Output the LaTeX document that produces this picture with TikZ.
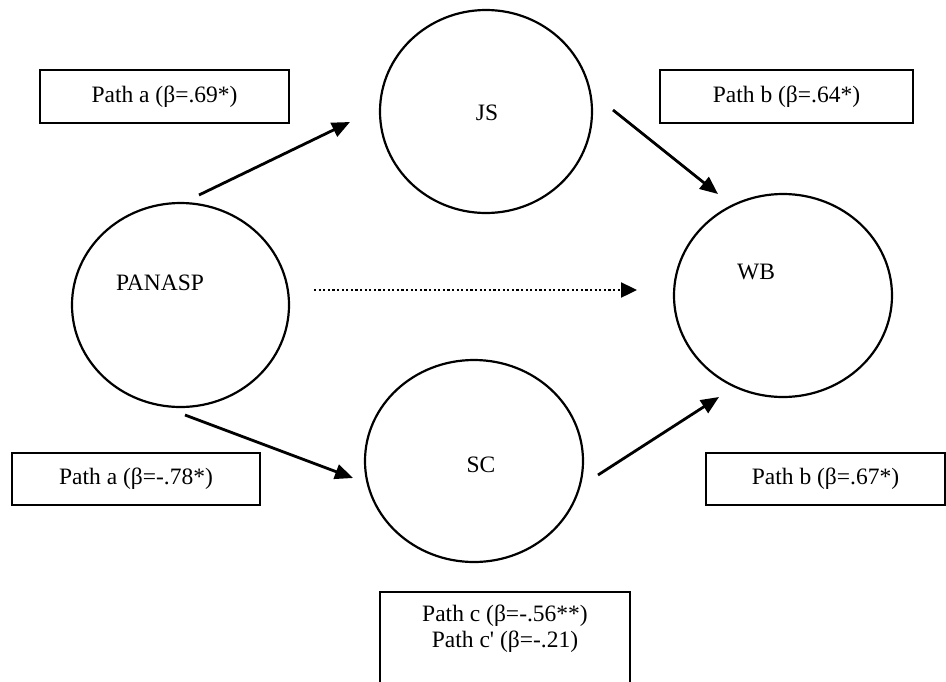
\documentclass[tikz,border=0pt]{standalone}
\usepackage{fontspec}
\newfontfamily\diagfont{Liberation Serif}
\usetikzlibrary{arrows.meta,shapes.geometric}
\begin{document}
\begin{tikzpicture}[x=1pt,y=-1pt,
  construct/.style={draw, ellipse, line width=2.2pt, inner sep=0pt},
  pathbox/.style={draw, line width=2.2pt, inner sep=0pt,
    font=\diagfont\fontsize{23.5}{26}\selectfont},
  txt/.style={inner sep=0pt, font=\diagfont\fontsize{23.5}{26}\selectfont},
  link/.style={line width=2.8pt, -{Triangle[length=18pt,width=15pt]}},
  dotlink/.style={line width=2.4pt, dash pattern=on 2.2pt off 2.4pt,
    -{Triangle[length=16pt,width=15pt]}}]
\useasboundingbox (0,0) rectangle (946,681);
\clip (0,0) rectangle (946,681);

% latent constructs
\node[construct, minimum width=217pt, minimum height=204pt] (panasp) at (180.5,305) {};
\node[construct, minimum width=212pt, minimum height=203pt] (js) at (486,111.5) {};
\node[construct, minimum width=218pt, minimum height=203pt] (wb) at (783,295.5) {};
\node[construct, minimum width=218pt, minimum height=202pt] (sc) at (474,461) {};

\node[txt] (panasptxt) at (160,283) {PANASP};
\node[txt] (jstxt) at (487,113) {JS};
\node[txt] (wbtxt) at (756,272) {WB};
\node[txt] (sctxt) at (481,465) {SC};

% coefficient boxes
\node[pathbox, minimum width=249pt, minimum height=53pt] (pa1) at (164.5,96.5) {Path a (β=.69*)};
\node[pathbox, minimum width=253pt, minimum height=53pt] (pb1) at (786.5,96.5) {Path b (β=.64*)};
\node[pathbox, minimum width=248pt, minimum height=52pt] (pa2) at (136,479) {Path a (β=-.78*)};
\node[pathbox, minimum width=239pt, minimum height=52pt] (pb2) at (825.5,479) {Path b (β=.67*)};
\node[pathbox, minimum width=250pt, minimum height=130pt, anchor=north] (pc) at (505,591) {};
\node[txt, align=center] (pctxt) at (505,629) {Path c (β=-.56**)\\Path c' (β=-.21)};

% paths
\coordinate (a1s) at (199,195);  \coordinate (a1e) at (350,122);
\coordinate (b1s) at (613,110);  \coordinate (b1e) at (718,194);
\coordinate (a2s) at (185,415);  \coordinate (a2e) at (353,478);
\coordinate (b2s) at (598,475);  \coordinate (b2e) at (719,397);
\coordinate (cs) at (314,290);   \coordinate (ce) at (637,290);

\draw[link] (a1s) -- (a1e);
\draw[link] (b1s) -- (b1e);
\draw[link] (a2s) -- (a2e);
\draw[link] (b2s) -- (b2e);
\draw[dotlink] (cs) -- (ce);
\end{tikzpicture}
\end{document}
